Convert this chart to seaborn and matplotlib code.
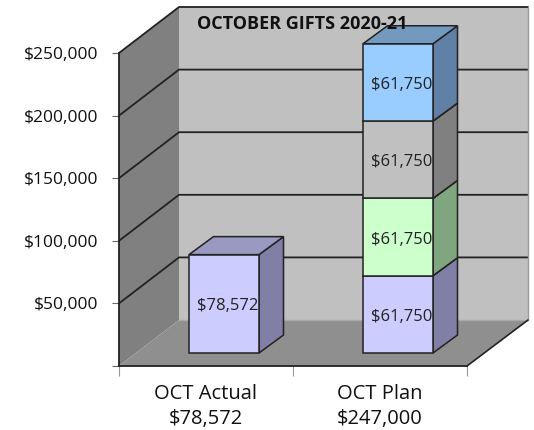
# 十月捐赠：实际 vs 计划（伪 3D 堆叠柱）
import matplotlib
matplotlib.use("Agg")
import matplotlib.pyplot as plt
from matplotlib.patches import Polygon
import seaborn as sns

categories = ["OCT Actual\n$78,572", "OCT Plan\n$247,000"]
actual_values = [78572]
plan_values = [61750, 61750, 61750, 61750]
y_ticks = [0, 50000, 100000, 150000, 200000, 250000]
y_labels = ["", "$50,000", "$100,000", "$150,000", "$200,000", "$250,000"]
title = "OCTOBER GIFTS 2020-21"

plan_front = ["#CCCCFF", "#CCFFCC", "#C0C0C0", "#99CCFF"]
plan_side = ["#8080A6", "#80A680", "#808080", "#6080A6"]
plan_top = ["#9999C2", "#99C299", "#999999", "#7399BF"]

sns.set_theme(style="white")
plt.rcParams['font.family'] = ['Open Sans', 'DejaVu Sans']

# 像素换算：每类 174 px，每 5 万 62.6 px
W, H = 534, 430
px_x = 1 / 174
px_y = 50000 / 62.6
wall_dx, wall_dy = 60 * px_x, 46 * px_y
off_x, off_y = 18 * px_x, 13 * px_y
side_dx, side_dy = 24.5 * px_x, 18 * px_y
bar_w = 70 * px_x
x_max = -0.5 + 409 * px_x
y_max = 359 * px_y
line_c = "#222222"

fig = plt.figure(figsize=(W / 100, H / 100), dpi=100)
ax = fig.add_axes([119 / W, 1 - 366 / H, 409 / W, 359 / H])
ax.patch.set_visible(False)


def wall(points, color, z=1):
    ax.add_patch(Polygon(points, closed=True, facecolor=color, edgecolor="none",
                         zorder=z, clip_on=False))


def seg(xs, ys, color=line_c, lw=1.3, z=2):
    ax.plot(xs, ys, color=color, lw=lw, zorder=z, clip_on=False, solid_capstyle="round")


def draw_bar(i, start, value, front, side, top):
    # 正面由 seaborn 画，侧面和顶面按同一比例算
    vals = [0, 0]
    vals[i] = value
    sns.barplot(x=categories, y=vals, order=categories, color=front, width=bar_w,
                bottom=start + off_y, saturation=1, edgecolor=line_c, linewidth=1.1,
                zorder=5, ax=ax)
    x0 = i + off_x - bar_w / 2
    x1 = x0 + bar_w
    y0 = start + off_y
    y1 = y0 + value
    ax.add_patch(Polygon([(x1, y0), (x1 + side_dx, y0 + side_dy),
                          (x1 + side_dx, y1 + side_dy), (x1, y1)],
                         facecolor=side, edgecolor=line_c, lw=1.1, zorder=4))
    ax.add_patch(Polygon([(x0, y1), (x0 + side_dx, y1 + side_dy),
                          (x1 + side_dx, y1 + side_dy), (x1, y1)],
                         facecolor=top, edgecolor=line_c, lw=1.1, zorder=4))
    ax.text((x0 + x1) / 2 + 3.5 * px_x, (y0 + y1) / 2 - 2.5 * px_y, f"${value:,}",
            ha="center", va="center", fontsize=12, color="#222222", zorder=7)


def shift_bars():
    # 柱子在类别中心右移，空柱删掉
    for p in list(ax.patches):
        if p.get_gid() == "done" or isinstance(p, Polygon):
            continue
        if p.get_height() == 0:
            p.remove()
        else:
            p.set_x(p.get_x() + off_x)
            p.set_gid("done")


# 背景：后墙、左墙、地面
wall([(-0.5 + wall_dx, wall_dy), (x_max, wall_dy), (x_max, y_max), (-0.5 + wall_dx, y_max)], "#C0C0C0")
wall([(-0.5, 0), (-0.5 + wall_dx, wall_dy), (-0.5 + wall_dx, y_max), (-0.5, y_ticks[-1])], "#808080")
wall([(-0.5, 0), (1.5, 0), (x_max, wall_dy), (-0.5 + wall_dx, wall_dy)], "#8F8F8F")

# 网格线：左墙斜线 + 后墙横线
for t in y_ticks[1:]:
    seg([-0.5, -0.5 + wall_dx, x_max], [t, t + wall_dy, t + wall_dy])
seg([x_max, x_max], [wall_dy, y_max], color="#9A9A9A", lw=1)
seg([-0.5 + wall_dx, x_max], [wall_dy, wall_dy], color="#A8A8A8", lw=1)
seg([1.5, x_max], [0, wall_dy], lw=1.2)

# 柱子
draw_bar(0, 0, actual_values[0], plan_front[0], plan_side[0], plan_top[0])
shift_bars()
start = 0
for v, f, s, t in zip(plan_values, plan_front, plan_side, plan_top):
    draw_bar(1, start, v, f, s, t)
    shift_bars()
    start += v

ax.text(-0.5 + 183 * px_x, y_max - 17 * px_y, title, ha="center", va="center",
        fontsize=13, fontweight="bold", color="#111111", zorder=8)

# 坐标轴
ax.set_xlim(-0.5, x_max)
ax.set_ylim(0, y_max)
ax.set_xlabel("")
ax.set_ylabel("")
for name in ["top", "right"]:
    ax.spines[name].set_visible(False)
ax.spines["left"].set_bounds(0, y_ticks[-1])
ax.spines["bottom"].set_bounds(-0.5, 1.5)
for name in ["left", "bottom"]:
    ax.spines[name].set_color(line_c)
    ax.spines[name].set_linewidth(1.3)
    ax.spines[name].set_zorder(3)
ax.set_yticks(y_ticks, y_labels, fontsize=12.5, color="#111111")
ax.tick_params(axis="y", left=True, length=5, width=0.8, color="#666666", pad=10)
ax.set_xticks([-0.5, 0.5, 1.5], ["", "", ""])
ax.set_xticks([0, 1], categories, minor=True, fontsize=14.5, color="#111111")
ax.tick_params(axis="x", which="major", bottom=True, length=7, width=0.8, color="#999999")
ax.tick_params(axis="x", which="minor", bottom=False, length=0, pad=13)
for lab in ax.get_xticklabels(minor=True):
    lab.set_linespacing(1.35)

plt.savefig("out.png", dpi=100)
plt.close()
